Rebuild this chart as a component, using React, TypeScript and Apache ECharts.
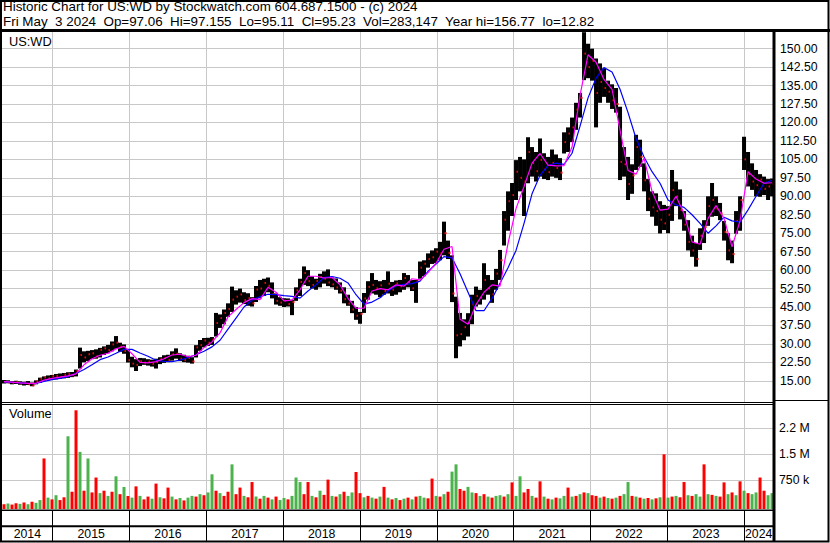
import React, { useEffect, useRef } from 'react';
import * as echarts from 'echarts';

// ---- axis ranges / ticks ----
const X_MIN = 2014.34;
const X_MAX = 2024.374;
const START_YEAR = 2014.34;
const STEP_YEARS = 0.05206;
const YEAR_TICKS = [2015, 2016, 2017, 2018, 2019, 2020, 2021, 2022, 2023, 2024];
const YEARS = [2014, 2015, 2016, 2017, 2018, 2019, 2020, 2021, 2022, 2023, 2024];
const PRICE_MIN = 6.4;
const PRICE_MAX = 156.77;
const PRICE_TICKS = [15, 22.5, 30, 37.5, 45, 52.5, 60, 67.5, 75, 82.5, 90, 97.5, 105, 112.5, 120, 127.5, 135, 142.5, 150];
const VOL_MIN = -78;
const VOL_MAX = 2922;
const VOL_TICKS = [750, 1500, 2250];
const VOL_TICK_LABELS = ['750 k', '1.5 M', '2.2 M'];

// ---- price samples ----
const LOW = [
  13.9, 14.0, 13.6, 13.7, 13.4, 13.1, 13.3, 12.8, 13.6, 14.2,
  15.0, 15.2, 15.4, 15.6, 15.8, 16.0, 16.2, 16.5, 16.8, 20.0,
  22.5, 23.0, 23.8, 24.0, 24.5, 25.5, 26.2, 27.0, 28.0, 26.8,
  26.0, 22.5, 20.5, 19.0, 21.0, 21.5, 21.2, 20.8, 20.0, 21.8,
  22.3, 22.6, 23.2, 24.0, 23.0, 22.6, 22.4, 22.0, 24.5, 27.2,
  28.6, 29.2, 29.6, 33.0, 36.5, 38.0, 41.0, 43.0, 46.0, 46.8,
  46.2, 45.5, 45.2, 47.0, 48.5, 49.5, 51.0, 48.5, 46.0, 45.5,
  45.0, 45.2, 41.7, 47.5, 49.5, 54.0, 53.5, 52.5, 52.0, 53.0,
  54.5, 53.5, 53.0, 52.0, 50.5, 46.5, 45.5, 42.5, 39.8, 38.2,
  42.6, 48.0, 50.5, 50.0, 49.0, 50.0, 50.5, 49.5, 50.0, 51.0,
  52.0, 53.0, 51.5, 46.7, 56.5, 57.5, 61.0, 62.5, 62.8, 64.0,
  66.0, 64.5, 47.0, 24.2, 29.0, 31.5, 33.0, 38.0, 45.2, 46.0,
  48.0, 50.0, 46.7, 52.0, 56.0, 70.0, 76.0, 82.0, 88.5, 92.0,
  82.0, 95.3, 98.0, 96.0, 98.0, 97.0, 96.6, 98.0, 97.5, 96.6,
  107.4, 108.0, 112.0, 117.0, 122.0, 137.2, 138.0, 137.0, 118.0, 128.0,
  130.4, 128.0, 125.5, 124.0, 96.6, 98.0, 88.5, 91.0, 100.7, 102.0,
  92.0, 84.0, 81.7, 78.0, 74.9, 76.3, 75.0, 80.0, 86.0, 80.6,
  76.0, 68.0, 65.4, 61.4, 68.2, 71.0, 78.0, 81.7, 82.0, 80.3,
  72.0, 64.0, 62.8, 74.8, 76.0, 100.7, 94.0, 92.6, 90.0, 89.8,
  90.5, 88.5, 90.0,
];
const HIGH = [
  15.3, 15.2, 14.9, 15.0, 14.8, 14.6, 14.9, 14.3, 15.2, 16.3,
  16.8, 17.2, 17.4, 17.8, 18.0, 18.2, 18.5, 18.6, 19.6, 28.5,
  27.0, 27.2, 27.5, 27.8, 28.4, 29.0, 29.6, 31.0, 33.2, 30.5,
  29.8, 27.5, 24.8, 23.8, 24.3, 24.2, 23.8, 23.6, 24.0, 24.6,
  25.4, 25.6, 27.0, 28.2, 26.2, 25.6, 25.2, 24.6, 29.5, 31.6,
  32.4, 32.5, 32.8, 42.6, 42.0, 44.0, 46.5, 53.3, 51.8, 52.5,
  51.0, 50.6, 49.0, 53.5, 56.0, 56.5, 57.0, 55.0, 50.5, 49.0,
  48.6, 48.5, 48.0, 53.0, 56.5, 61.5, 60.0, 57.5, 56.5, 58.5,
  59.5, 60.3, 57.0, 56.6, 55.0, 53.0, 50.0, 47.5, 45.0, 43.0,
  50.7, 55.5, 58.8, 56.0, 55.5, 56.0, 59.5, 55.2, 55.8, 56.0,
  58.8, 58.0, 56.0, 56.0, 63.5, 64.0, 66.8, 68.0, 68.9, 71.5,
  79.7, 72.0, 66.0, 49.2, 42.6, 40.0, 42.5, 50.0, 53.3, 52.0,
  62.8, 58.0, 56.0, 60.5, 68.2, 84.0, 92.0, 95.4, 104.7, 106.0,
  105.0, 114.0, 110.0, 108.0, 113.5, 107.5, 106.0, 109.0, 107.0, 105.5,
  116.0, 118.0, 122.0, 128.0, 132.0, 156.7, 152.0, 150.0, 146.0, 144.0,
  142.0, 137.0, 135.5, 134.0, 126.4, 110.0, 106.0, 103.0, 115.0, 113.0,
  103.4, 97.0, 92.0, 91.2, 88.0, 86.5, 86.0, 100.7, 96.0, 92.8,
  84.0, 80.3, 74.0, 71.0, 77.0, 80.3, 90.0, 95.4, 90.0, 87.3,
  80.0, 75.0, 72.0, 84.0, 90.0, 114.2, 108.0, 103.4, 100.7, 99.0,
  98.0, 97.0, 97.2,
];
const CLOSE = [
  14.6, 14.3, 14.2, 14.5, 13.9, 14.2, 13.6, 13.2, 14.8, 15.8,
  16.4, 16.0, 16.9, 17.0, 16.6, 17.5, 17.8, 17.2, 19.0, 25.5,
  24.5, 25.8, 26.2, 25.0, 27.6, 28.2, 27.5, 29.8, 30.5, 28.9,
  27.1, 23.4, 22.0, 21.5, 23.0, 22.4, 22.8, 21.9, 22.6, 23.8,
  24.2, 23.5, 25.8, 26.0, 24.0, 23.4, 24.3, 22.9, 28.6, 29.5,
  31.4, 30.5, 31.8, 38.5, 40.5, 42.6, 44.2, 48.0, 49.2, 50.1,
  47.8, 48.6, 46.5, 52.1, 52.5, 54.8, 53.6, 50.2, 47.5, 46.8,
  47.6, 46.2, 47.0, 51.8, 55.2, 58.8, 55.5, 54.0, 55.6, 57.2,
  56.5, 55.0, 54.2, 53.0, 51.6, 48.2, 46.4, 44.0, 41.5, 42.2,
  48.5, 53.2, 54.0, 52.6, 53.8, 51.5, 54.5, 52.0, 54.6, 53.4,
  56.8, 55.0, 52.6, 55.4, 61.0, 62.6, 64.5, 65.2, 67.5, 66.8,
  75.0, 67.0, 50.5, 33.5, 34.0, 36.8, 38.5, 46.0, 49.5, 48.8,
  56.0, 52.5, 50.2, 58.6, 64.0, 80.5, 88.0, 90.5, 100.0, 97.5,
  96.0, 108.0, 103.5, 100.2, 104.8, 101.0, 99.8, 103.6, 101.5, 99.6,
  112.0, 115.5, 118.0, 125.2, 130.0, 148.0, 142.5, 145.0, 132.0, 136.5,
  134.0, 132.5, 129.0, 127.5, 104.0, 103.0, 95.0, 98.5, 110.0, 106.0,
  96.5, 89.0, 85.5, 84.0, 80.5, 79.0, 82.5, 92.5, 90.0, 84.5,
  78.5, 71.5, 68.0, 64.5, 74.0, 77.5, 86.0, 88.5, 85.0, 83.0,
  75.5, 68.0, 66.5, 80.0, 88.5, 105.0, 99.0, 96.0, 94.5, 96.8,
  93.0, 94.0, 95.2,
];

// ---- moving averages (one value every second price sample) ----
const MA_SHORT = [
  14.7, 14.5, 14.2, 14.0, 14.0, 15.3, 16.0, 16.5, 17.0, 17.8,
  21.5, 24.0, 25.4, 26.2, 28.0, 29.0, 26.0, 22.5, 22.3, 22.8,
  24.0, 25.5, 25.8, 24.8, 25.4, 28.5, 30.8, 34.5, 41.0, 44.0,
  46.8, 48.4, 48.0, 53.0, 51.0, 47.5, 47.8, 52.0, 57.5, 57.5,
  56.8, 57.0, 54.0, 48.5, 44.5, 44.5, 51.5, 52.5, 52.0, 54.0,
  53.5, 56.5, 56.0, 59.0, 62.8, 68.5, 69.6, 40.0, 38.0, 46.0,
  51.0, 54.0, 53.5, 70.9, 85.0, 94.0, 103.5, 107.4, 102.7, 102.4,
  102.5, 110.0, 131.0, 147.5, 144.5, 137.5, 133.5, 116.9, 100.5, 99.0,
  105.5, 92.0, 84.4, 84.8, 90.0, 83.0, 71.5, 70.5, 81.0, 86.2,
  81.0, 69.5, 80.0, 100.0, 97.0, 95.3, 95.5,
];
const MA_LONG = [
  14.6, 14.4, 14.2, 14.0, 13.9, 14.8, 15.5, 16.0, 16.7, 18.0,
  19.6, 21.5, 23.6, 24.7, 26.2, 27.8, 27.8, 26.3, 25.0, 23.4,
  22.9, 22.8, 23.4, 24.5, 25.6, 27.0, 28.8, 31.5, 36.0, 40.5,
  45.0, 47.8, 49.2, 50.2, 50.0, 49.6, 49.3, 48.6, 51.5, 54.0,
  57.0, 57.4, 56.7, 54.8, 50.0, 46.2, 47.0, 48.8, 51.5, 53.6,
  54.2, 54.5, 55.5, 59.5, 62.5, 65.5, 65.0, 58.5, 51.0, 43.5,
  43.5, 48.5, 54.7, 61.0, 68.0, 79.0, 91.0, 98.5, 102.5, 103.5,
  103.0, 107.5, 118.5, 130.0, 138.0, 142.3, 140.5, 133.5, 124.0, 113.5,
  106.0, 100.0, 95.3, 88.5, 86.5, 85.5, 82.5, 79.0, 75.0, 78.0,
  81.5, 80.0, 79.5, 84.5, 90.0, 95.3, 96.5,
];

// ---- volume (thousands) and bar colours (g = up, r = down) ----
const VOLUME = [
  60, 80, 50, 90, 70, 110, 60, 130, 100, 180,
  1380, 250, 200, 320, 180, 260, 2020, 420, 2770, 1570,
  450, 1380, 400, 830, 380, 450, 300, 420, 865, 350,
  557, 300, 250, 575, 300, 200, 280, 220, 655, 260,
  230, 540, 280, 200, 240, 170, 250, 300, 280, 350,
  320, 400, 923, 450, 380, 300, 420, 1210, 350, 540,
  300, 260, 700, 280, 220, 300, 250, 200, 280, 180,
  240, 200, 300, 830, 700, 350, 700, 300, 260, 450,
  330, 770, 300, 280, 350, 420, 300, 400, 990, 380,
  260, 300, 250, 220, 280, 560, 250, 200, 240, 180,
  220, 250, 200, 280, 300, 250, 230, 800, 300, 280,
  350, 420, 1000, 1210, 500, 450, 560, 400, 380, 300,
  350, 280, 250, 300, 320, 280, 350, 690, 300, 865,
  400, 500, 300, 250, 720, 280, 220, 200, 250, 230,
  300, 540, 280, 300, 350, 400, 380, 320, 300, 250,
  280, 240, 220, 250, 300, 350, 700, 300, 280, 250,
  220, 240, 200, 230, 260, 1500, 250, 280, 300, 260,
  700, 320, 300, 350, 280, 1210, 350, 330, 300, 280,
  690, 350, 400, 320, 720, 450, 380, 350, 400, 830,
  450, 320, 380,
];
const VOL_COLORS =
  'rgrrgrgrgg' + 'rgrgrrgrrg' + 'rgrrgrgrgr' + 'grgrgrrgrg' + 'rrgrgrggrg' +
  'rggrgrrgrr' + 'grrgrgrgrg' + 'grgggrrgrg' + 'rrgrgrggrr' + 'grgrgrgrgr' +
  'grgrggrrgr' + 'grggrrggrg' + 'rgrggrgrgg' + 'rrgrrgrgrg' + 'grgrgrgrrg' +
  'rgrgrggrgr' + 'grgrgrgrgr' + 'rgrggrgrgr' + 'rgrgrgrggr' + 'rgg';

const NB = '\u00a0 ';
const HEADER_1 = 'Historic Chart for US:WD by Stockwatch.com 604.687.1500 - (c) 2024';
const HEADER_2 = ['Fri May', '3 2024', 'Op=97.06', 'Hi=97.155', 'Lo=95.11', 'Cl=95.23', 'Vol=283,147', 'Year hi=156.77', 'lo=12.82'].join(NB);
const SYMBOL = 'US:WD';
const VOL_TITLE = 'Volume';

const FONT_FAMILY = '"Liberation Sans", Arial, sans-serif';
const RED = '#ff0000';
const GREEN = '#4cb34c';
const GRID_GRAY = '#c8c8c8';

function sampleTime(i: number) {
  return START_YEAR + (i + 0.5) * STEP_YEARS;
}

function buildOption() {
  const priceData = LOW.map((lo, i) => [sampleTime(i), lo, HIGH[i], CLOSE[i]]);
  const maShort = MA_SHORT.map((v, k) => [sampleTime(2 * k), v]);
  const maLong = MA_LONG.map((v, k) => [sampleTime(2 * k), v]);
  const volData = VOLUME.map((v, i) => [sampleTime(i), v]);
  const yearData = YEARS.map((y) => [(Math.max(y, X_MIN) + Math.min(y + 1, X_MAX)) / 2, 0.23, y]);

  const xAxisBase = (gridIndex: number, color: string) => ({
    type: 'value',
    gridIndex,
    min: X_MIN,
    max: X_MAX,
    axisLine: { show: false },
    axisTick: { show: false, customValues: YEAR_TICKS },
    axisLabel: { show: false, customValues: YEAR_TICKS },
    splitLine: { show: true, lineStyle: { color, width: 1 } },
  });

  const labelStyle = { color: '#000', fontSize: 12.3, fontFamily: FONT_FAMILY };

  return {
    animation: false,
    backgroundColor: '#ffffff',
    grid: [
      { left: 2, top: 32, width: 771, height: 370 },
      { left: 2, top: 405, width: 771, height: 104 },
      { left: 2, top: 510, width: 771, height: 31 },
    ],
    xAxis: [xAxisBase(0, GRID_GRAY), xAxisBase(1, GRID_GRAY), xAxisBase(2, '#000')],
    yAxis: [
      {
        type: 'value',
        gridIndex: 0,
        position: 'right',
        min: PRICE_MIN,
        max: PRICE_MAX,
        axisLine: { show: false },
        axisTick: { show: false, customValues: PRICE_TICKS },
        axisLabel: {
          ...labelStyle,
          customValues: PRICE_TICKS,
          margin: 7,
          formatter: (v: number) => v.toFixed(2),
        },
        splitLine: { show: true, lineStyle: { color: GRID_GRAY, width: 1 } },
      },
      {
        type: 'value',
        gridIndex: 1,
        position: 'right',
        min: VOL_MIN,
        max: VOL_MAX,
        axisLine: { show: false },
        axisTick: { show: false, customValues: VOL_TICKS },
        axisLabel: {
          ...labelStyle,
          customValues: VOL_TICKS,
          margin: 6,
          formatter: (v: number) => VOL_TICK_LABELS[VOL_TICKS.indexOf(v)] ?? '',
        },
        splitLine: { show: true, lineStyle: { color: GRID_GRAY, width: 1 } },
      },
      { type: 'value', gridIndex: 2, min: 0, max: 1, show: false },
    ],
    series: [
      {
        type: 'custom',
        name: 'price',
        xAxisIndex: 0,
        yAxisIndex: 0,
        clip: true,
        silent: true,
        data: priceData,
        encode: { x: 0, y: [1, 2] },
        renderItem: (params: any, api: any) => {
          const t = api.value(0);
          const pHi = api.coord([t, api.value(2)]);
          const pLo = api.coord([t, api.value(1)]);
          const pCl = api.coord([t, api.value(3)]);
          return {
            type: 'group',
            children: [
              {
                type: 'rect',
                shape: { x: pHi[0] - 2, y: pHi[1], width: 4, height: Math.max(1, pLo[1] - pHi[1]) },
                style: { fill: '#000' },
              },
              {
                type: 'rect',
                shape: { x: pCl[0] + 0.5, y: pCl[1] - 1, width: 2, height: 2 },
                style: { fill: RED },
              },
            ],
          };
        },
      },
      {
        type: 'line',
        name: 'long',
        xAxisIndex: 0,
        yAxisIndex: 0,
        data: maLong,
        symbol: 'none',
        silent: true,
        lineStyle: { color: '#0000ff', width: 1.2 },
      },
      {
        type: 'line',
        name: 'short',
        xAxisIndex: 0,
        yAxisIndex: 0,
        data: maShort,
        symbol: 'none',
        silent: true,
        lineStyle: { color: '#ff00ff', width: 1.2 },
      },
      {
        type: 'custom',
        name: 'volume',
        xAxisIndex: 1,
        yAxisIndex: 1,
        clip: true,
        silent: true,
        data: volData,
        encode: { x: 0, y: 1 },
        renderItem: (params: any, api: any) => {
          const p = api.coord([api.value(0), api.value(1)]);
          const cs = params.coordSys;
          const bottom = cs.y + cs.height;
          return {
            type: 'rect',
            shape: { x: p[0] - 1.5, y: p[1], width: 3, height: bottom - p[1] },
            style: { fill: VOL_COLORS[params.dataIndex] === 'g' ? GREEN : RED },
          };
        },
      },
      {
        type: 'custom',
        name: 'years',
        xAxisIndex: 2,
        yAxisIndex: 2,
        silent: true,
        data: yearData,
        encode: { x: 0, y: 1 },
        renderItem: (params: any, api: any) => {
          const p = api.coord([api.value(0), api.value(1)]);
          return {
            type: 'text',
            x: p[0],
            y: p[1],
            style: {
              text: String(api.value(2)),
              textAlign: 'center',
              textVerticalAlign: 'middle',
              fill: '#000',
              font: `12.3px ${FONT_FAMILY}`,
            },
          };
        },
      },
    ],
    graphic: [
      {
        type: 'text', left: 3, top: 0, z: 100, silent: true,
        style: { text: HEADER_1, fill: '#000', font: `13.4px ${FONT_FAMILY}` },
      },
      {
        type: 'text', left: 3, top: 14.6, z: 100, silent: true,
        style: { text: HEADER_2, fill: '#000', font: `13.4px ${FONT_FAMILY}` },
      },
      {
        type: 'text', left: 9, top: 35, z: 100, silent: true,
        style: { text: SYMBOL, fill: '#000', font: `12.8px ${FONT_FAMILY}` },
      },
      {
        type: 'text', left: 9, top: 407, z: 100, silent: true,
        style: { text: VOL_TITLE, fill: '#000', font: `12.8px ${FONT_FAMILY}` },
      },
      // frame
      { type: 'line', z: 100, silent: true, shape: { x1: 0, y1: 30.5, x2: 830, y2: 30.5 }, style: { stroke: '#000', lineWidth: 3 } },
      { type: 'line', z: 100, silent: true, shape: { x1: 774, y1: 30, x2: 774, y2: 542 }, style: { stroke: '#000', lineWidth: 3 } },
      { type: 'line', z: 100, silent: true, shape: { x1: 0, y1: 402.5, x2: 773, y2: 402.5 }, style: { stroke: '#000', lineWidth: 1 } },
      { type: 'line', z: 100, silent: true, shape: { x1: 0, y1: 404.5, x2: 773, y2: 404.5 }, style: { stroke: '#000', lineWidth: 1 } },
      { type: 'line', z: 100, silent: true, shape: { x1: 775, y1: 400.5, x2: 829, y2: 400.5 }, style: { stroke: '#000', lineWidth: 1 } },
      { type: 'line', z: 100, silent: true, shape: { x1: 0, y1: 510.2, x2: 773, y2: 510.2 }, style: { stroke: '#000', lineWidth: 1.5 } },
      { type: 'line', z: 100, silent: true, shape: { x1: 0, y1: 526.3, x2: 773, y2: 526.3 }, style: { stroke: '#000', lineWidth: 2 } },
      {
        type: 'rect', z: 100, silent: true,
        shape: { x: 1, y: 1, width: 827.5, height: 540.5 },
        style: { fill: 'none', stroke: '#000', lineWidth: 2 },
      },
    ],
  };
}

export default function App() {
  const ref = useRef<HTMLDivElement>(null);
  useEffect(() => {
    if (!ref.current) return;
    const chart = echarts.init(ref.current, undefined, { renderer: 'svg', width: 830, height: 543 });
    chart.setOption(buildOption() as any);
    return () => {
      chart.dispose();
    };
  }, []);
  return (
    <div
      ref={ref}
      style={{ position: 'fixed', left: 0, top: 0, width: 830, height: 543, background: '#ffffff' }}
    />
  );
}
